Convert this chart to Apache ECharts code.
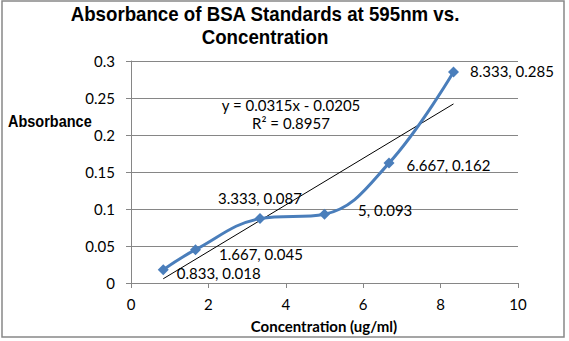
<!DOCTYPE html>
<html>
<head>
<meta charset="utf-8">
<script src="https://cdn.jsdelivr.net/npm/echarts@6/dist/echarts.min.js"></script>
<style>
  html, body { margin: 0; padding: 0; background: #fff; }
  #chart { width: 569px; height: 341px; }
</style>
</head>
<body>
<div id="chart"></div>
<script>
// BSA standard curve: concentration (ug/ml) against absorbance at 595 nm
const concentration = [0.833, 1.667, 3.333, 5, 6.667, 8.333];
const absorbance = [0.018, 0.045, 0.087, 0.093, 0.162, 0.285];
const xTicks = [0, 2, 4, 6, 8, 10];
const yTicks = [0, 0.05, 0.1, 0.15, 0.2, 0.25, 0.3];

// Linear fit reported on the chart
const slope = 0.0315;
const intercept = -0.0205;
const rSquared = 0.8957;

// Per-point label placement around each marker
const labelPlacement = [
  { position: 'right', offset: [3, 3] },
  { position: 'right', offset: [13, 4] },
  { position: 'top', offset: [0, -3] },
  { position: 'right', offset: [23, -4] },
  { position: 'right', offset: [7, 2] },
  { position: 'right', offset: [6, -1] }
];

const labelFont = 'Lato, "Open Sans", sans-serif';
const lineBlue = '#4a7ebb';

const points = concentration.map((x, i) => ({
  value: [x, absorbance[i]],
  label: labelPlacement[i]
}));

const xFirst = concentration[0];
const xLast = concentration[concentration.length - 1];
const trend = [
  [xFirst, slope * xFirst + intercept],
  [xLast, slope * xLast + intercept]
];

const chart = echarts.init(document.getElementById('chart'), null, { renderer: 'svg' });

chart.setOption({
  animation: false,
  backgroundColor: '#ffffff',
  graphic: [
    {
      type: 'rect',
      shape: { x: 2, y: 1, width: 562, height: 336 },
      style: { fill: 'none', stroke: '#888888', lineWidth: 1.5 },
      silent: true
    },
    {
      type: 'text',
      x: 265, y: 2,
      scaleY: 1.1,
      style: {
        text: 'Absorbance of BSA Standards at 595nm vs.\nConcentration',
        font: 'bold 18.7px "Liberation Sans", Arial, sans-serif',
        lineHeight: 21,
        fill: '#000',
        align: 'center',
        verticalAlign: 'top'
      }
    },
    {
      type: 'text',
      x: 8, y: 121,
      scaleY: 1.12,
      style: {
        text: 'Absorbance',
        font: 'bold 14.5px "Liberation Sans", Arial, sans-serif',
        fill: '#000',
        verticalAlign: 'middle'
      }
    },
    {
      type: 'text',
      x: 324, y: 326,
      style: {
        text: 'Concentration (ug/ml)',
        font: 'bold 15px Lato, "Open Sans", sans-serif',
        fill: '#000',
        align: 'center',
        verticalAlign: 'middle'
      }
    },
    {
      type: 'text',
      x: 291, y: 105,
      style: {
        text: 'y = ' + slope + 'x - ' + Math.abs(intercept),
        font: '15px Lato, "Open Sans", sans-serif',
        fill: '#000',
        align: 'center',
        verticalAlign: 'middle'
      }
    },
    {
      type: 'text',
      x: 291, y: 123,
      style: {
        text: 'R² = ' + rSquared,
        font: '15px Lato, "Open Sans", sans-serif',
        fill: '#000',
        align: 'center',
        verticalAlign: 'middle'
      }
    }
  ],
  grid: { left: 131, right: 51, top: 61, bottom: 58 },
  xAxis: {
    type: 'value',
    min: xTicks[0],
    max: xTicks[xTicks.length - 1],
    interval: 2,
    splitLine: { show: false },
    axisLine: { lineStyle: { color: '#868686', width: 1 } },
    axisTick: { show: true, inside: false, length: 5, lineStyle: { color: '#868686' } },
    axisLabel: { color: '#000', fontFamily: labelFont, fontSize: 15, margin: 13 }
  },
  yAxis: {
    type: 'value',
    min: yTicks[0],
    max: yTicks[yTicks.length - 1],
    interval: 0.05,
    splitLine: { show: true, lineStyle: { color: '#868686', width: 1 } },
    axisLine: { show: true, lineStyle: { color: '#868686', width: 1 } },
    axisTick: { show: true, inside: false, length: 5, lineStyle: { color: '#868686' } },
    axisLabel: { color: '#000', fontFamily: labelFont, fontSize: 15, margin: 16 }
  },
  series: [
    {
      type: 'line',
      data: trend,
      symbol: 'none',
      silent: true,
      lineStyle: { color: '#000', width: 1 },
      z: 3
    },
    {
      type: 'line',
      data: points,
      smooth: 0.4,
      symbol: 'diamond',
      symbolSize: 11,
      itemStyle: { color: lineBlue },
      lineStyle: { color: lineBlue, width: 3 },
      label: {
        show: true,
        color: '#000',
        fontFamily: labelFont,
        fontSize: 15,
        formatter: p => p.value[0] + ', ' + p.value[1]
      },
      z: 4
    }
  ]
});
</script>
</body>
</html>
